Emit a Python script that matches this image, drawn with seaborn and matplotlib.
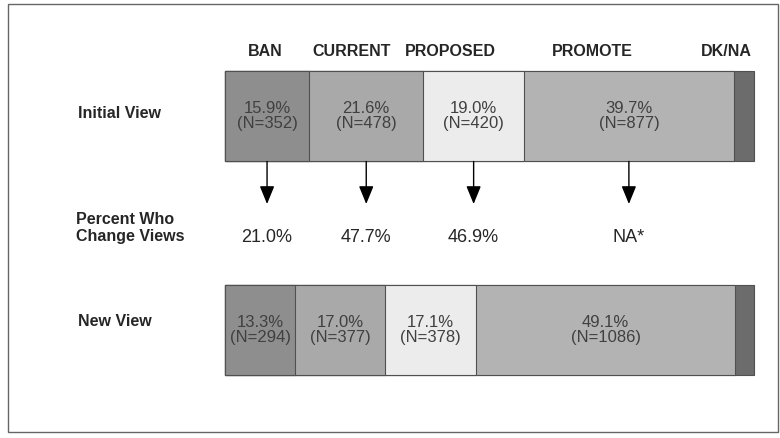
import pandas as pd
import matplotlib.pyplot as plt
import matplotlib.patches as mpatches
import seaborn as sns

# dados
categorias = ["BAN", "CURRENT", "PROPOSED", "PROMOTE", "DK/NA"]
views = ["Initial View", "New View"]
inicial_pct = [15.9, 21.6, 19.0, 39.7, 3.8]
inicial_n = [352, 478, 420, 877]
nova_pct = [13.3, 17.0, 17.1, 49.1, 3.5]
nova_n = [294, 377, 378, 1086]
mudanca = ["21.0%", "47.7%", "46.9%", "NA*"]

cores = {"BAN": "#8e8e8e", "CURRENT": "#a9a9a9", "PROPOSED": "#ececec",
         "PROMOTE": "#b3b3b3", "DK/NA": "#6c6c6c"}

sns.set_style("white")
plt.rcParams['font.family'] = ['Liberation Sans', 'DejaVu Sans']

# tabela longa com a soma acumulada (barras empilhadas sobrepostas)
linhas = []
for view, pcts in zip(views, [inicial_pct, nova_pct]):
    acum = 0
    for cat, p in zip(categorias, pcts):
        acum += p
        linhas.append((view, cat, p, acum, acum - p / 2))
df = pd.DataFrame(linhas, columns=["view", "cat", "pct", "acum", "centro"])

W, H = 780, 438
fig = plt.figure(figsize=(W / 100, H / 100), dpi=100)
ax = fig.add_axes([0, 0, 1, 1])

# mapa pixel -> dados
x0, esc = 225, 5.29
y0, uni = 116, 214
largura = 0.425

sns.barplot(data=df, x="acum", y="view", hue="cat", hue_order=categorias[::-1],
            order=views, palette=cores, dodge=False, width=largura, orient="h",
            edgecolor="#505050", linewidth=0.8, legend=False, ax=ax)

ax.set_xlim(-x0 / esc, (W - x0) / esc)
ax.set_ylim((H - y0) / uni, -y0 / uni)
ax.axis("off")

# texto dentro das barras
for i, (view, ns) in enumerate(zip(views, [inicial_n, nova_n])):
    sub = df[df.view == view].reset_index(drop=True)
    for j, n in enumerate(ns):
        ax.text(sub.centro[j], i, f"{sub.pct[j]:.1f}%\n(N={n})", ha="center", va="center",
                fontsize=12, color="#404040", linespacing=1.05)

# setas e percentual de mudanca
ini = df[df.view == "Initial View"].reset_index(drop=True)
y_ponta = (204 - y0) / uni
for j, txt in enumerate(mudanca):
    ax.annotate("", xy=(ini.centro[j], y_ponta), xytext=(ini.centro[j], largura / 2),
                arrowprops=dict(arrowstyle="-|>,head_width=0.45,head_length=1.1",
                                color="black", lw=1, shrinkA=0, shrinkB=0))
    ax.text(ini.centro[j], (237 - y0) / uni, txt, ha="center", va="center", fontsize=13)

# cabecalhos
header_x = [265, 352, 450, 592, 726]
for cat, hx in zip(categorias, header_x):
    fig.text(hx / W, 1 - 51 / H, cat, ha="center", va="center", fontsize=11.5, fontweight="bold")

fig.text(78 / W, 1 - 114 / H, "Initial View", ha="left", va="center", fontsize=11.5, fontweight="bold")
fig.text(76 / W, 1 - 228 / H, "Percent Who\nChange Views", ha="left", va="center",
         fontsize=11.5, fontweight="bold", linespacing=1.25)
fig.text(78 / W, 1 - 322 / H, "New View", ha="left", va="center", fontsize=11.5, fontweight="bold")

# moldura
fig.patches.append(mpatches.Rectangle((8 / W, 1 - 432 / H), 770 / W, 428 / H,
                                      transform=fig.transFigure, fill=False,
                                      edgecolor="#666666", lw=1))

fig.savefig("out.png", dpi=100)
